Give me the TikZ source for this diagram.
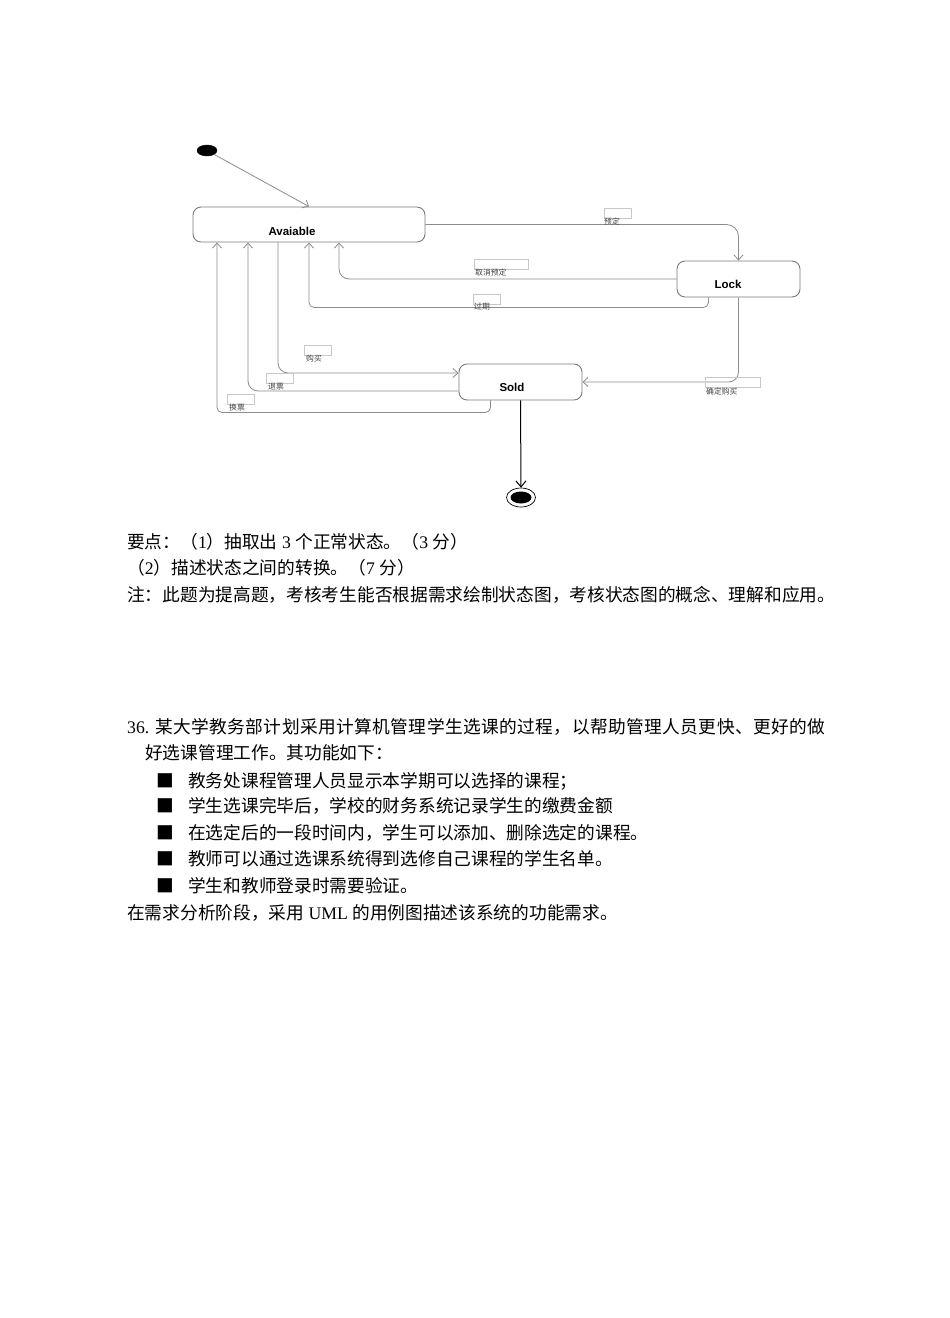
\documentclass[tikz,border=0pt]{standalone}
\usepackage{fontspec}
\setmainfont{Liberation Serif}
\setsansfont{Liberation Sans}
\newfontfamily\cjk{Noto Sans CJK SC}
\newfontfamily\cjkwide[LetterSpace=2.4]{Noto Sans CJK SC}
\usetikzlibrary{shapes.geometric,arrows.meta,positioning,calc}
\definecolor{linegray}{HTML}{8C8C8C}
\definecolor{boxgray} {HTML}{7A7A7A}
\definecolor{tagline} {HTML}{C8C8C8}
\newcommand\zh[1]{{\cjk #1}}

\begin{document}
\begin{tikzpicture}[x=1pt,y=-1pt,
  state/.style={draw=boxgray,fill=white,rounded corners=8pt,line width=0.9pt,
                inner sep=0pt},
  sname/.style={font=\sffamily\bfseries\fontsize{11.5}{13}\selectfont,inner sep=0pt},
  trans/.style={draw=linegray,line width=0.8pt,rounded corners=10pt,
                -{Straight Barb[length=5pt,width=9pt]}},
  tag/.style={draw=tagline,line width=0.6pt,minimum width=27pt,minimum height=10pt,
              inner sep=0pt,anchor=north west},
  tagtxt/.style={font=\cjk\fontsize{7.8}{8}\selectfont,text=black!75,inner sep=0pt,
                 anchor=west},
  para/.style={anchor=base west,inner sep=0pt,font=\fontsize{17.7}{21}\selectfont}
]
\useasboundingbox (0,0) rectangle (950,1318);

% states
\node[state,minimum width=232pt,minimum height=35pt] (avail) at (309,224.5) {};
\node[state,minimum width=123pt,minimum height=36pt] (lock)  at (738.5,279) {};
\node[state,minimum width=123pt,minimum height=36pt] (sold)  at (520.5,382) {};
\node[sname] (availtxt) at (292,231) {Avaiable};
\node[sname] (locktxt)  at (728,284) {Lock};
\node[sname] (soldtxt)  at (512,387) {Sold};

\node[draw,fill=black,ellipse,minimum width=20pt,minimum height=11pt,inner sep=0pt]
  (init) at (207,150.5) {};
\node[draw=black,line width=0.7pt,ellipse,minimum width=29pt,minimum height=19pt,
      inner sep=0pt] (final) at (521,497.5) {};
\node[fill=black,ellipse,minimum width=21pt,minimum height=12pt,inner sep=0pt]
  (finaldot) at (final) {};

% entry points on the bottom of Avaiable
\coordinate (aChg) at ([xshift=-92pt]avail.south);
\coordinate (aRet) at ([xshift=-61pt]avail.south);
\coordinate (aBuy) at ([xshift=-31pt]avail.south);
\coordinate (aCan) at ([xshift=30pt]avail.south);

% transitions
\draw[trans] (init) -- (avail.north);
\draw[trans,rounded corners=12pt] (avail.east) -| (lock.north);
\draw[trans] (lock.west) -| (aCan);
\draw[trans,rounded corners=5pt] ([xshift=-30pt]lock.south) -- ++(0,10) -| (avail.south);
\draw[trans] (aBuy) |- ([yshift=9pt]sold.west);
\draw[trans] ([yshift=-9pt]sold.west) -| (aRet);
\draw[trans,rounded corners=5pt] ([xshift=-30pt]sold.south) -- ++(0,12) -| (aChg);
\draw[trans] (lock.south) |- (sold.east);
\draw[-{Straight Barb[length=6pt,width=10pt]},line width=1pt] (sold.south) -- (final.north);

% guard labels
\node[tag] (tBook) at (604,208) {};
\node[tagtxt] (lBook) at (604,222) {预定};
\node[tag,minimum width=54pt] (tCancel) at (474,259) {};
\node[tagtxt] (lCancel) at (475,273) {取消预定};
\node[tag] (tExp) at (473,294) {};
\node[tagtxt] (lExp) at (474,307) {过期};
\node[tag] (tBuy) at (304,345) {};
\node[tagtxt] (lBuy) at (306,359) {购买};
\node[tag] (tRet) at (266,373) {};
\node[tagtxt] (lRet) at (268,387) {退票};
\node[tag] (tChg) at (227,394) {};
\node[tagtxt] (lChg) at (229,408) {换票};
\node[tag,minimum width=55pt] (tConf) at (705,377) {};
\node[tagtxt] (lConf) at (706,392) {确定购买};

% answer notes
\node[para] (pt1) at (127,548.5) {\zh{要点：（}1\zh{）抽取出} 3 \zh{个正常状态。（}3 \zh{分）}};
\node[para] (pt2) at (127,574.5) {\zh{（}2\zh{）描述状态之间的转换。（}7 \zh{分）}};
\node[para] (pt3) at (127,601.5) {\zh{注：此题为提高题，考核考生能否根据需求绘制状态图，考核状态图的概念、理解和应用。}};

% question 36
\node[para] (q1) at (127,733.5) {36. {\cjkwide 某大学教务部计划采用计算机管理学生选课的过程，以帮助管理人员更快、更好的做}};
\node[para] (q2) at (145,759.5) {\zh{好选课管理工作。其功能如下：}};
\node[para] (b1) at (156,787.5) {\zh{■}};
\node[para] (b2) at (156,812.5) {\zh{■}};
\node[para] (b3) at (156,839.5) {\zh{■}};
\node[para] (b4) at (156,865.5) {\zh{■}};
\node[para] (b5) at (156,892.5) {\zh{■}};
\node[para] (i1) at (188,787.5) {\zh{教务处课程管理人员显示本学期可以选择的课程；}};
\node[para] (i2) at (188,812.5) {\zh{学生选课完毕后，学校的财务系统记录学生的缴费金额}};
\node[para] (i3) at (188,839.5) {\zh{在选定后的一段时间内，学生可以添加、删除选定的课程。}};
\node[para] (i4) at (188,865.5) {\zh{教师可以通过选课系统得到选修自己课程的学生名单。}};
\node[para] (i5) at (188,892.5) {\zh{学生和教师登录时需要验证。}};
\node[para] (q3) at (127,919.5) {\zh{在需求分析阶段，采用} UML \zh{的用例图描述该系统的功能需求。}};
\end{tikzpicture}
\end{document}
